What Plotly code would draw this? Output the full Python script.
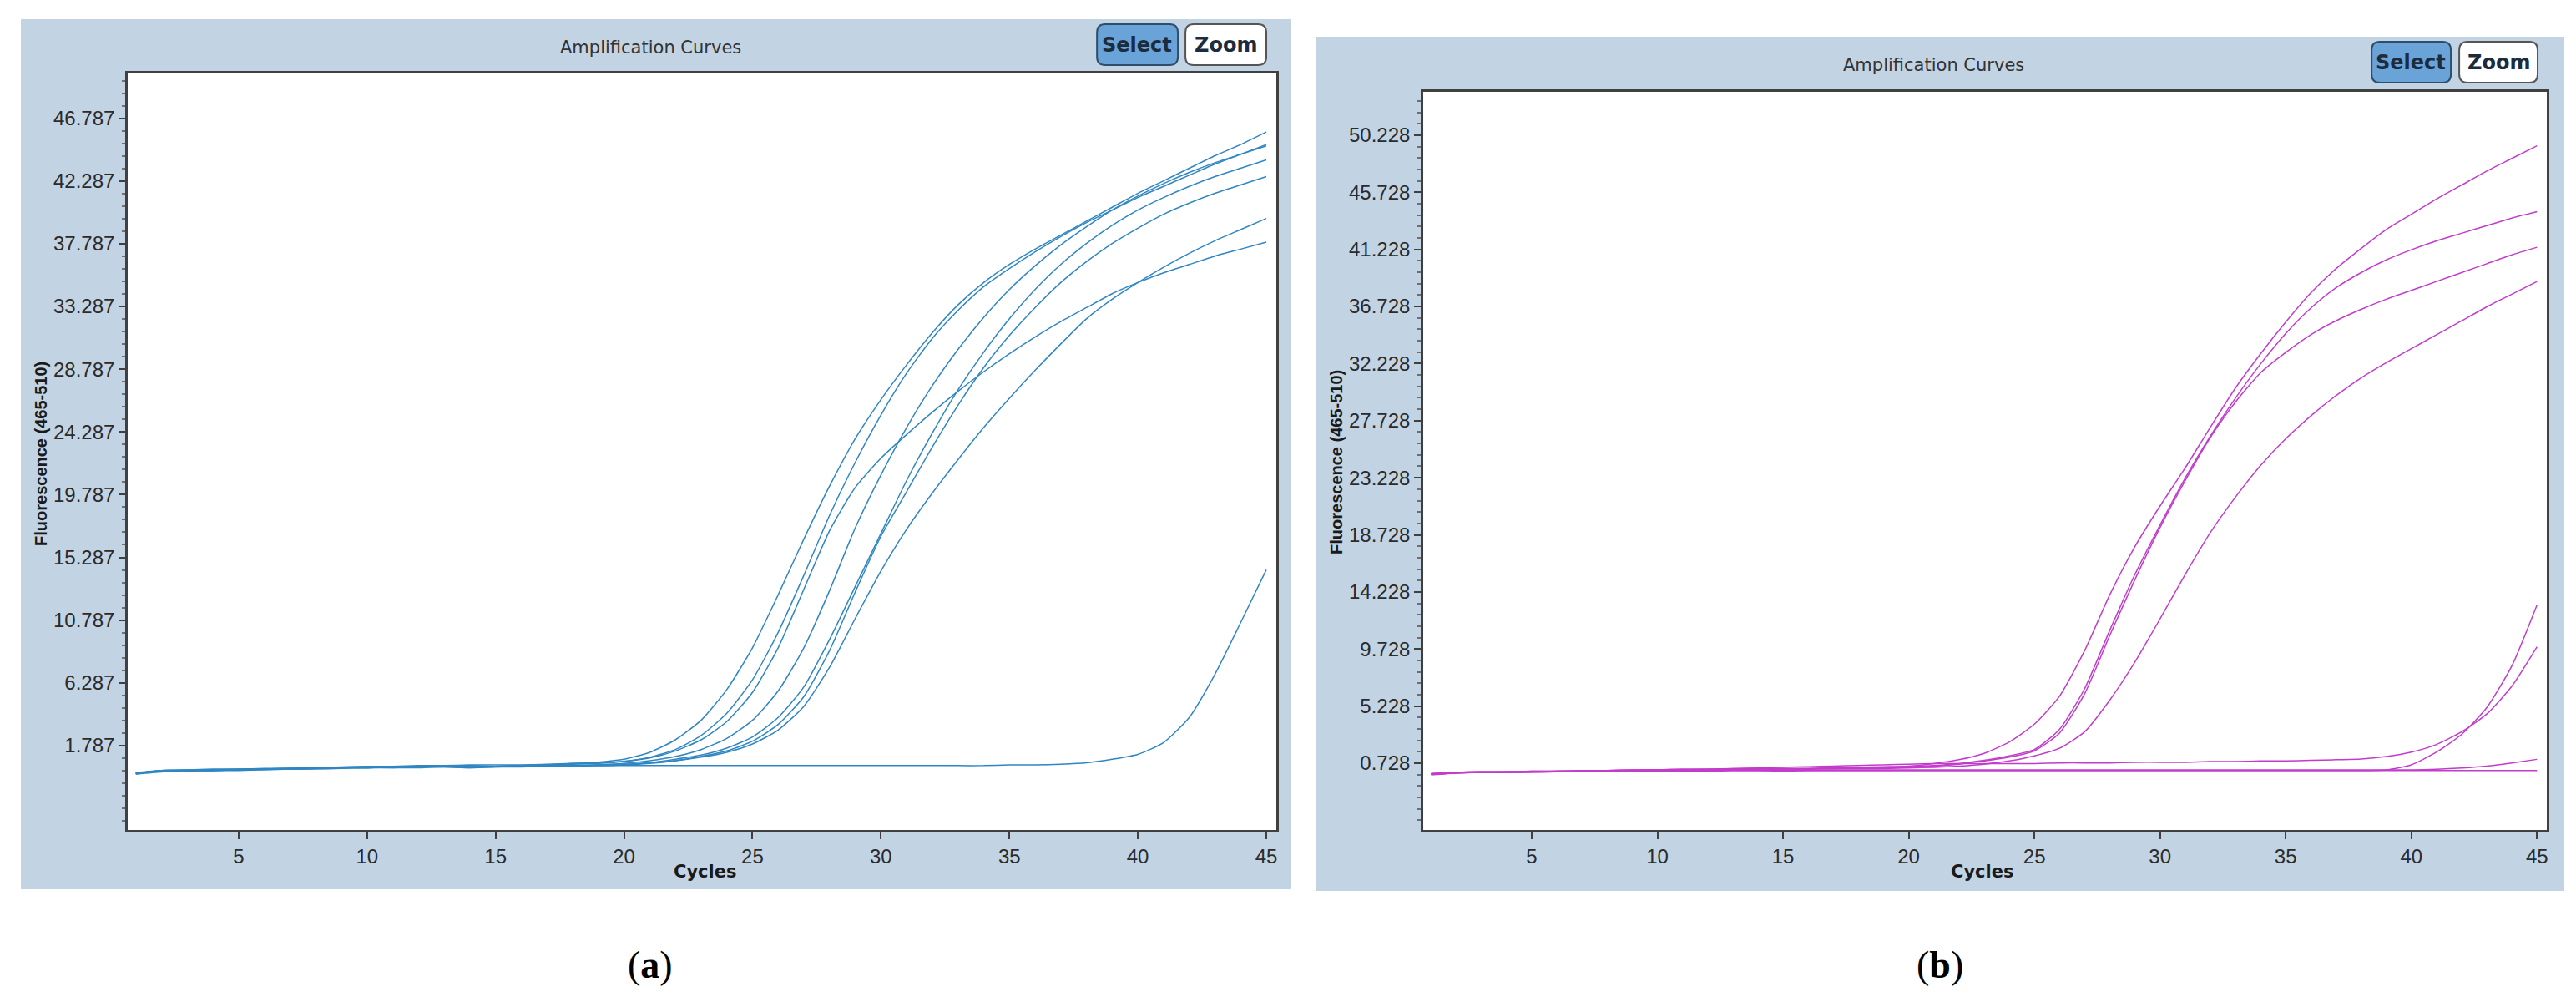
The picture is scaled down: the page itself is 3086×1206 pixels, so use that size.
import plotly.graph_objects as go

W, H = 3086, 1206

# cycle numbers shared by every curve
cycles = list(range(1, 46))

# panel (a) - blue amplification curves, fluorescence per cycle
a_curve1 = [-0.25, -0.05, 0.0, 0.0, 0.05, 0.1, 0.1, 0.15, 0.2, 0.2, 0.25, 0.25, 0.3, 0.3, 0.3, 0.35, 0.4, 0.5, 0.6,
            0.8, 1.3, 2.2, 3.6, 5.8, 8.8, 12.6, 16.6, 20.4, 23.8, 26.6, 29.1, 31.4, 33.4, 35.0, 36.3, 37.4, 38.4,
            39.4, 40.4, 41.4, 42.3, 43.2, 44.1, 44.9, 45.8]
a_curve2 = [-0.2, 0.0, 0.05, 0.05, 0.1, 0.1, 0.15, 0.2, 0.2, 0.25, 0.3, 0.3, 0.3, 0.35, 0.3, 0.35, 0.4, 0.45, 0.5,
            0.65, 0.95, 1.5, 2.5, 4.1, 6.5, 9.9, 14.0, 18.3, 22.1, 25.5, 28.5, 31.0, 33.0, 34.7, 36.0, 37.2, 38.3,
            39.3, 40.2, 41.1, 41.9, 42.7, 43.5, 44.2, 44.9]
a_curve3 = [-0.15, 0.0, 0.0, 0.05, 0.05, 0.1, 0.15, 0.15, 0.2, 0.2, 0.2, 0.25, 0.25, 0.2, 0.25, 0.3, 0.3, 0.35, 0.4,
            0.5, 0.7, 1.0, 1.5, 2.3, 3.6, 5.7, 8.8, 12.9, 17.4, 21.2, 24.6, 27.6, 30.2, 32.5, 34.5, 36.2, 37.7,
            39.0, 40.2, 41.2, 42.1, 42.9, 43.6, 44.2, 44.8]
a_curve4 = [-0.2, -0.05, 0.0, 0.0, 0.05, 0.1, 0.1, 0.15, 0.2, 0.25, 0.25, 0.3, 0.3, 0.25, 0.3, 0.3, 0.3, 0.35, 0.35,
            0.4, 0.55, 0.8, 1.1, 1.6, 2.4, 3.8, 6.0, 9.4, 13.2, 17.0, 20.8, 24.2, 27.3, 30.0, 32.4, 34.5, 36.3,
            37.8, 39.1, 40.2, 41.1, 41.9, 42.6, 43.2, 43.8]
a_curve5 = [-0.25, -0.1, -0.05, 0.0, 0.0, 0.05, 0.1, 0.1, 0.15, 0.2, 0.2, 0.2, 0.25, 0.2, 0.25, 0.25, 0.3, 0.3, 0.35,
            0.4, 0.5, 0.7, 1.0, 1.4, 2.1, 3.3, 5.3, 8.6, 12.8, 16.8, 20.0, 23.2, 26.2, 28.9, 31.2, 33.2, 35.0,
            36.5, 37.8, 38.9, 39.9, 40.7, 41.4, 42.0, 42.6]
a_curve6 = [-0.2, 0.0, 0.05, 0.1, 0.1, 0.15, 0.15, 0.2, 0.25, 0.3, 0.3, 0.35, 0.35, 0.4, 0.4, 0.4, 0.45, 0.5, 0.55,
            0.65, 0.9, 1.4, 2.2, 3.5, 5.6, 8.8, 13.0, 17.2, 20.3, 22.4, 24.1, 25.7, 27.2, 28.6, 29.9, 31.1, 32.2,
            33.2, 34.2, 35.0, 35.7, 36.3, 36.9, 37.4, 37.9]
a_curve7 = [-0.2, -0.05, 0.0, 0.0, 0.05, 0.1, 0.15, 0.15, 0.2, 0.2, 0.25, 0.25, 0.3, 0.25, 0.3, 0.3, 0.35, 0.35, 0.4,
            0.45, 0.55, 0.7, 0.95, 1.3, 1.9, 2.9, 4.6, 7.4, 10.9, 14.3, 17.3, 19.9, 22.3, 24.6, 26.7, 28.7, 30.6,
            32.4, 33.8, 35.0, 36.1, 37.1, 38.0, 38.8, 39.6]
a_curve8 = [-0.2, 0.0, 0.0, 0.05, 0.05, 0.1, 0.1, 0.15, 0.2, 0.2, 0.25, 0.3, 0.3, 0.3, 0.3, 0.35, 0.35, 0.35, 0.35,
            0.35, 0.35, 0.35, 0.35, 0.35, 0.35, 0.35, 0.35, 0.35, 0.35, 0.35, 0.35, 0.35, 0.35, 0.35, 0.4, 0.4, 0.45,
            0.55, 0.8, 1.15, 2.0, 3.8, 6.9, 10.6, 14.4]

# panel (b) - magenta amplification curves
b_curve1 = [-0.15, 0.0, 0.0, 0.05, 0.05, 0.1, 0.1, 0.15, 0.15, 0.2, 0.2, 0.25, 0.25, 0.3, 0.3, 0.3, 0.35, 0.4, 0.45,
            0.5, 0.7, 1.0, 1.5, 2.4, 3.8, 6.0, 9.6, 14.0, 17.8, 21.0, 24.0, 27.2, 30.3, 33.0, 35.5, 37.8, 39.7,
            41.3, 42.8, 44.0, 45.2, 46.3, 47.4, 48.4, 49.4]
b_curve2 = [-0.1, 0.0, 0.05, 0.05, 0.1, 0.1, 0.15, 0.15, 0.2, 0.2, 0.25, 0.25, 0.3, 0.3, 0.3, 0.3, 0.35, 0.35, 0.4,
            0.45, 0.55, 0.7, 0.95, 1.3, 1.8, 3.4, 6.6, 11.2, 15.6, 19.5, 23.2, 26.5, 29.5, 32.2, 34.6, 36.6, 38.2,
            39.4, 40.4, 41.2, 41.9, 42.5, 43.1, 43.7, 44.2]
b_curve3 = [-0.15, -0.05, 0.0, 0.0, 0.05, 0.05, 0.1, 0.15, 0.15, 0.2, 0.2, 0.2, 0.25, 0.25, 0.25, 0.3, 0.3, 0.35, 0.35,
            0.4, 0.5, 0.65, 0.9, 1.2, 1.7, 3.1, 6.2, 10.8, 15.2, 19.3, 23.0, 26.4, 29.2, 31.5, 33.1, 34.5, 35.6,
            36.5, 37.3, 38.0, 38.7, 39.4, 40.1, 40.8, 41.4]
b_curve4 = [-0.2, -0.05, 0.0, 0.0, 0.05, 0.05, 0.1, 0.1, 0.15, 0.15, 0.2, 0.2, 0.2, 0.25, 0.25, 0.25, 0.3, 0.3, 0.3,
            0.35, 0.4, 0.5, 0.65, 0.9, 1.3, 1.9, 3.2, 5.7, 8.7, 12.1, 15.6, 18.9, 21.7, 24.2, 26.3, 28.1, 29.7,
            31.1, 32.3, 33.4, 34.5, 35.6, 36.7, 37.7, 38.7]
b_curve5 = [-0.15, -0.05, 0.0, 0.0, 0.0, 0.05, 0.05, 0.1, 0.1, 0.1, 0.1, 0.15, 0.15, 0.15, 0.15, 0.15, 0.15, 0.15, 0.15,
            0.15, 0.15, 0.15, 0.15, 0.15, 0.15, 0.15, 0.15, 0.15, 0.15, 0.15, 0.15, 0.15, 0.15, 0.15, 0.15, 0.15, 0.15,
            0.15, 0.2, 0.6, 1.6, 3.0, 5.1, 8.4, 13.2]
b_curve6 = [-0.1, 0.0, 0.05, 0.05, 0.1, 0.1, 0.15, 0.15, 0.2, 0.2, 0.25, 0.25, 0.3, 0.35, 0.4, 0.45, 0.5, 0.55, 0.6,
            0.65, 0.7, 0.7, 0.7, 0.7, 0.7, 0.75, 0.75, 0.75, 0.8, 0.8, 0.8, 0.85, 0.85, 0.9, 0.9, 0.95, 1.0,
            1.05, 1.25, 1.6, 2.2, 3.2, 4.6, 6.8, 9.9]
b_curve7 = [-0.1, 0.0, 0.05, 0.05, 0.05, 0.1, 0.1, 0.1, 0.15, 0.15, 0.15, 0.2, 0.2, 0.2, 0.2, 0.2, 0.2, 0.2, 0.2,
            0.2, 0.2, 0.2, 0.2, 0.2, 0.2, 0.2, 0.2, 0.2, 0.2, 0.2, 0.2, 0.2, 0.2, 0.2, 0.2, 0.2, 0.2,
            0.2, 0.2, 0.2, 0.25, 0.35, 0.5, 0.75, 1.03]
b_curve8 = [-0.15, -0.05, 0.0, 0.0, 0.05, 0.05, 0.05, 0.1, 0.1, 0.1, 0.1, 0.1, 0.15, 0.15, 0.1, 0.15, 0.15, 0.15, 0.15,
            0.15, 0.15, 0.15, 0.15, 0.15, 0.15, 0.15, 0.15, 0.15, 0.15, 0.15, 0.15, 0.15, 0.15, 0.15, 0.15, 0.15, 0.15,
            0.15, 0.15, 0.15, 0.15, 0.15, 0.15, 0.15, 0.15]

a_curves = [a_curve1, a_curve2, a_curve3, a_curve4, a_curve5, a_curve6, a_curve7, a_curve8]
b_curves = [b_curve1, b_curve2, b_curve3, b_curve4, b_curve5, b_curve6, b_curve7, b_curve8]

# y tick labels as printed by the instrument software
a_yticks = [1.787, 6.287, 10.787, 15.287, 19.787, 24.287, 28.787, 33.287, 37.787, 42.287, 46.787]
b_yticks = [0.728, 5.228, 9.728, 14.228, 18.728, 23.228, 27.728, 32.228, 36.728, 41.228, 45.728, 50.228]
x_ticks = [5, 10, 15, 20, 25, 30, 35, 40, 45]

BLUE = "#2f86c3"
MAGENTA = "#c23ccc"
PANEL_BG = "#c2d4e4"
AXIS_COL = "#404040"
TXT = "#2b2b2b"


def X(x):
    return x / W


def Y(y):
    return 1 - y / H


def rounded(x0, y0, x1, y1, r):
    # rounded rectangle path in paper coords from pixel box
    return ("M {a},{b} L {c},{b} Q {d},{b} {d},{e} L {d},{f} Q {d},{g} {c},{g} "
            "L {a},{g} Q {h},{g} {h},{f} L {h},{e} Q {h},{b} {a},{b} Z").format(
        a=X(x0 + r), b=Y(y0), c=X(x1 - r), d=X(x1), e=Y(y0 + r),
        f=Y(y1 - r), g=Y(y1), h=X(x0))


fig = go.Figure()

for ys in a_curves:
    fig.add_trace(go.Scatter(x=cycles, y=ys, mode="lines", xaxis="x", yaxis="y",
                             line=dict(color=BLUE, width=1.5, shape="spline", smoothing=0.6)))
for ys in b_curves:
    fig.add_trace(go.Scatter(x=cycles, y=ys, mode="lines", xaxis="x2", yaxis="y2",
                             line=dict(color=MAGENTA, width=1.5, shape="spline", smoothing=0.6)))

tickfont = dict(family="Liberation Sans, Arial, sans-serif", size=24, color=TXT)


def xax(domain, anchor):
    return dict(domain=domain, range=[0.68, 45.39], tickmode="array", tickvals=x_ticks,
                ticks="outside", ticklen=8, tickwidth=2, tickcolor=AXIS_COL, showline=True,
                mirror=True, linecolor=AXIS_COL, linewidth=2.5, showgrid=False, zeroline=False,
                tickfont=tickfont, anchor=anchor, fixedrange=True)


def yax(domain, rng, ticks, anchor):
    return dict(domain=domain, range=rng, tickmode="array", tickvals=ticks,
                ticktext=["%.3f" % t for t in ticks],
                ticks="outside", ticklen=8, tickwidth=2, tickcolor=AXIS_COL, showline=True,
                mirror=True, linecolor=AXIS_COL, linewidth=2.5, showgrid=False, zeroline=False,
                tickfont=tickfont, anchor=anchor, fixedrange=True,
                minor=dict(tickmode="linear", ticks="outside", ticklen=4, tickwidth=1.5,
                           tickcolor="#707070", tick0=ticks[0], dtick=0.9, showgrid=False))


shapes = [
    # grey-blue panels
    dict(type="rect", xref="paper", yref="paper", x0=X(17), x1=X(1540), y0=Y(1057), y1=Y(15),
         fillcolor=PANEL_BG, line=dict(width=0), layer="below"),
    dict(type="rect", xref="paper", yref="paper", x0=X(1570), x1=X(3066), y0=Y(1059), y1=Y(36),
         fillcolor=PANEL_BG, line=dict(width=0), layer="below"),
    # white plot areas
    dict(type="rect", xref="x domain", yref="y domain", x0=0, x1=1, y0=0, y1=1,
         fillcolor="white", line=dict(width=0), layer="below"),
    dict(type="rect", xref="x2 domain", yref="y2 domain", x0=0, x1=1, y0=0, y1=1,
         fillcolor="white", line=dict(width=0), layer="below"),
    # Select / Zoom buttons
    dict(type="path", xref="paper", yref="paper", path=rounded(1307, 21, 1404, 70, 10),
         fillcolor="#6aa3d8", line=dict(color="#2e4d6b", width=2)),
    dict(type="path", xref="paper", yref="paper", path=rounded(1413, 21, 1510, 70, 10),
         fillcolor="white", line=dict(color="#555555", width=2)),
    dict(type="path", xref="paper", yref="paper", path=rounded(2835, 42, 2930, 91, 10),
         fillcolor="#6aa3d8", line=dict(color="#2e4d6b", width=2)),
    dict(type="path", xref="paper", yref="paper", path=rounded(2940, 42, 3034, 91, 10),
         fillcolor="white", line=dict(color="#555555", width=2)),
]


def note(text, x, y, size, family="Liberation Sans, Arial, sans-serif", angle=0, color=TXT):
    return dict(text=text, xref="paper", yref="paper", x=X(x), y=Y(y), showarrow=False,
                xanchor="center", yanchor="middle", textangle=angle,
                font=dict(family=family, size=size, color=color))


dv = "DejaVu Sans, Verdana, sans-serif"
annotations = [
    note("Amplification Curves", 772, 49, 21, family=dv, color="#333333"),
    note("Amplification Curves", 2310, 70, 21, family=dv, color="#333333"),
    note("<b>Select</b>", 1355, 46, 24, family=dv, color="#1c2c3c"),
    note("<b>Zoom</b>", 1461, 46, 24, family=dv, color="#1c2c3c"),
    note("<b>Select</b>", 2882, 67, 24, family=dv, color="#1c2c3c"),
    note("<b>Zoom</b>", 2987, 67, 24, family=dv, color="#1c2c3c"),
    note("<b>Cycles</b>", 838, 1036, 21, family=dv, color="#1a1a1a"),
    note("<b>Cycles</b>", 2369, 1036, 21, family=dv, color="#1a1a1a"),
    note("<b>Fluorescence (465-510)</b>", 41, 535, 20, angle=-90, color="#1a1a1a"),
    note("<b>Fluorescence (465-510)</b>", 1594, 545, 20, angle=-90, color="#1a1a1a"),
    note("(<b>a</b>)", 771, 1147, 46, family="Liberation Serif, Times New Roman, serif", color="black"),
    note("(<b>b</b>)", 2318, 1147, 46, family="Liberation Serif, Times New Roman, serif", color="black"),
]

fig.update_layout(
    width=W, height=H,
    margin=dict(l=0, r=0, t=0, b=0),
    paper_bgcolor="white",
    plot_bgcolor="white",
    showlegend=False,
    xaxis=xax([X(145), X(1522)], "y"),
    yaxis=yax([1 - 986 / H, 1 - 80 / H], [-4.27, 50.0], a_yticks, "x"),
    xaxis2=xax([X(1698), X(3045)], "y2"),
    yaxis2=yax([1 - 986 / H, 1 - 102 / H], [-4.54, 53.65], b_yticks, "x2"),
    shapes=shapes,
    annotations=annotations,
)

fig.write_html("out.html")
